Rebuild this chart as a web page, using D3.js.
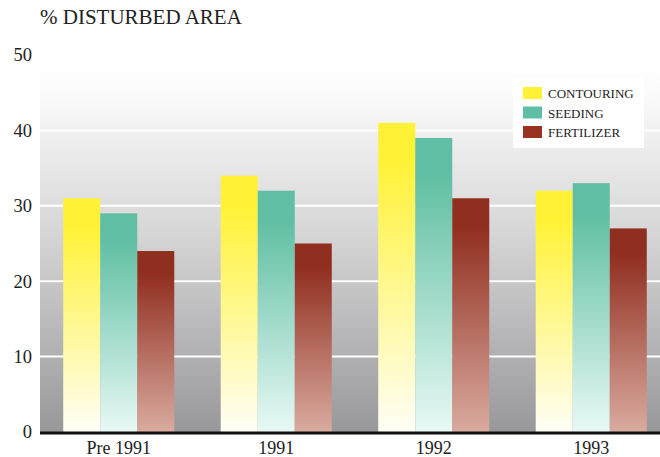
<!DOCTYPE html>
<html>
<head>
<meta charset="utf-8">
<script src="https://cdn.jsdelivr.net/npm/d3@7"></script>
<style>
  html, body { margin: 0; padding: 0; background: #fff; }
  svg { display: block; }
  text { font-family: "Liberation Serif", "Times New Roman", serif; fill: #222; }
</style>
</head>
<body>
<svg id="chart" width="660" height="457"></svg>
<script>
// Share of disturbed area treated, by period and treatment
const periods = ["Pre 1991", "1991", "1992", "1993"];
const treatments = ["CONTOURING", "SEEDING", "FERTILIZER"];
const contouring = [31, 34, 41, 32];
const seeding = [29, 32, 39, 33];
const fertilizer = [24, 25, 31, 27];
const yTicks = [0, 10, 20, 30, 40, 50];

const seriesValues = [contouring, seeding, fertilizer];
// top colour / bottom colour of each bar gradient
const barColors = [
  ["#fff236", "#fffef6"],
  ["#5fbea3", "#e8f9f5"],
  ["#902e1f", "#d9ab9f"]
];
const swatchColors = ["#fff236", "#5fbea3", "#963321"];

const svg = d3.select("#chart");
const W = 660, H = 457;
const plot = { left: 40, right: 670, top: 55, bottom: 432 };

const x0 = d3.scaleBand().domain(periods).range([plot.left, plot.right]).paddingInner(0.295).paddingOuter(0.1475);
const x1 = d3.scaleBand().domain(treatments).range([0, x0.bandwidth()]);
const y = d3.scaleLinear().domain([0, 50]).range([plot.bottom, plot.top]);

const defs = svg.append("defs");

// background wash: white at the top fading to grey at the base
const bg = defs.append("linearGradient").attr("id", "bgGrad")
  .attr("x1", 0).attr("y1", 0).attr("x2", 0).attr("y2", 1);
bg.append("stop").attr("offset", "0%").attr("stop-color", "#ffffff");
bg.append("stop").attr("offset", "10%").attr("stop-color", "#fbfbfb");
bg.append("stop").attr("offset", "25%").attr("stop-color", "#ececec");
bg.append("stop").attr("offset", "45%").attr("stop-color", "#d8d8d8");
bg.append("stop").attr("offset", "75%").attr("stop-color", "#b6b6b8");
bg.append("stop").attr("offset", "100%").attr("stop-color", "#98989a");

svg.append("rect")
  .attr("x", plot.left).attr("y", plot.top)
  .attr("width", W - plot.left).attr("height", plot.bottom - plot.top)
  .attr("fill", "url(#bgGrad)");

// white gridlines
svg.append("g").selectAll("line")
  .data(yTicks.filter(t => t > 0 && t < 50))
  .join("line")
  .attr("x1", plot.left).attr("x2", W)
  .attr("y1", d => y(d)).attr("y2", d => y(d))
  .attr("stroke", "#ffffff").attr("stroke-width", 2);

// per-series vertical gradients: saturated near the top, fading towards the base
treatments.forEach((t, i) => {
  const g = defs.append("linearGradient").attr("id", "barGrad" + i)
    .attr("x1", 0).attr("y1", 0).attr("x2", 0).attr("y2", 1);
  g.append("stop").attr("offset", "0%").attr("stop-color", barColors[i][0]);
  g.append("stop").attr("offset", "12%").attr("stop-color", barColors[i][0]);
  g.append("stop").attr("offset", "100%").attr("stop-color", barColors[i][1]);
});

// bars
const groups = svg.append("g").selectAll("g")
  .data(periods)
  .join("g")
  .attr("transform", d => `translate(${x0(d)},0)`);

groups.selectAll("rect")
  .data((p, pi) => treatments.map((t, ti) => ({ t, ti, v: seriesValues[ti][pi] })))
  .join("rect")
  .attr("x", d => x1(d.t))
  .attr("width", x1.bandwidth())
  .attr("y", d => y(d.v))
  .attr("height", d => y(0) - y(d.v))
  .attr("fill", d => `url(#barGrad${d.ti})`);

// y axis labels
const yAxis = d3.axisLeft(y).tickValues(yTicks).tickSize(0).tickPadding(8).tickFormat(d3.format("d"));
const yg = svg.append("g").attr("transform", `translate(${plot.left},0)`).call(yAxis);
yg.select(".domain").remove();
yg.selectAll("text").attr("font-size", 18.5).attr("font-family", "Liberation Serif").attr("fill", "#222");

// x axis labels
const xAxis = d3.axisBottom(x0).tickSize(0).tickPadding(9);
const xg = svg.append("g").attr("transform", `translate(0,${plot.bottom})`).call(xAxis);
xg.select(".domain").remove();
xg.selectAll("text").attr("font-size", 18).attr("font-family", "Liberation Serif").attr("fill", "#222");

// baseline
svg.append("line")
  .attr("x1", plot.left).attr("x2", W)
  .attr("y1", plot.bottom + 1).attr("y2", plot.bottom + 1)
  .attr("stroke", "#111").attr("stroke-width", 3);

// axis title
svg.append("text")
  .attr("x", 40).attr("y", 24)
  .attr("font-size", 21)
  .text("% DISTURBED AREA");

// legend
const legend = svg.append("g").attr("transform", "translate(513,77)");
legend.append("rect").attr("width", 131).attr("height", 71).attr("fill", "#ffffff");
const items = legend.selectAll("g.item")
  .data(treatments)
  .join("g").attr("class", "item")
  .attr("transform", (d, i) => `translate(10,${10 + i * 19.5})`);
items.append("rect").attr("width", 19).attr("height", 12).attr("fill", (d, i) => swatchColors[i]);
items.append("text").attr("x", 25).attr("y", 11)
  .attr("font-size", 13).attr("fill", "#333")
  .text(d => d);
</script>
</body>
</html>
